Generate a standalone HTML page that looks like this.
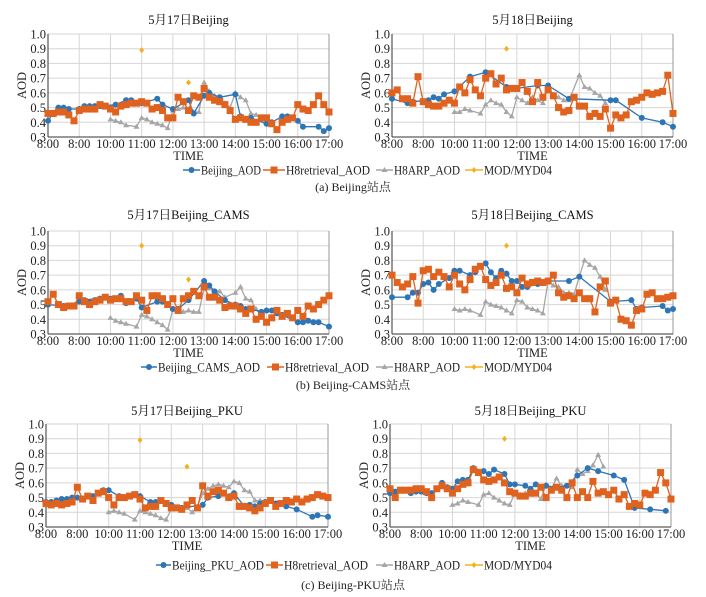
<!DOCTYPE html>
<html><head><meta charset="utf-8"><style>
html,body{margin:0;padding:0;background:#fff;}
svg{display:block;font-family:"Liberation Serif","Noto Serif CJK SC",serif;}
</style></head><body>
<svg id="fig" width="706" height="597" viewBox="0 0 706 597" xmlns="http://www.w3.org/2000/svg"></svg>
<script>
// ---- DATA ----
const xTickLabels = ["8:00","8:00","10:00","11:00","12:00","13:00","14:00","15:00","16:00","17:00"];
const yTickLabels = ["0.3","0.4","0.5","0.6","0.7","0.8","0.9","1.0"];
const yTickValues = [0.3,0.4,0.5,0.6,0.7,0.8,0.9,1.0];
const panelTitles = ["5月17日Beijing","5月18日Beijing","5月17日Beijing_CAMS","5月18日Beijing_CAMS","5月17日Beijing_PKU","5月18日Beijing_PKU"];
const groundNames = ["Beijing_AOD","Beijing_CAMS_AOD","Beijing_PKU_AOD"];
const captions = ["(a) Beijing站点","(b) Beijing-CAMS站点","(c) Beijing-PKU站点"];
// H8retrieval: every 10 min from 8:00 to 17:00
const h8ret = [
[.46,.46,.47,.47,.45,.41,.48,.49,.49,.49,.52,.51,.49,.47,.51,.52,.53,.53,.54,.53,.49,.50,.48,.43,.43,.57,.54,.48,.58,.57,.63,.57,.55,.54,.52,.48,.42,.43,.42,.40,.40,.43,.43,.39,.35,.40,.42,.43,.52,.49,.48,.52,.58,.52,.47],
[.60,.62,.56,.56,.53,.71,.54,.52,.51,.51,.53,.55,.53,.64,.60,.69,.62,.58,.70,.73,.66,.70,.62,.63,.63,.67,.61,.54,.67,.57,.62,.58,.50,.47,.48,.57,.51,.51,.44,.46,.44,.49,.36,.45,.43,.45,.54,.55,.57,.60,.59,.60,.61,.72,.46],
[.52,.57,.50,.48,.49,.49,.56,.52,.50,.52,.53,.55,.53,.54,.54,.52,.52,.56,.53,.46,.56,.56,.54,.50,.54,.46,.54,.56,.59,.56,.62,.55,.55,.53,.48,.49,.49,.47,.44,.47,.40,.42,.38,.41,.46,.42,.44,.41,.46,.42,.49,.47,.50,.53,.56],
[.70,.65,.62,.64,.69,.51,.73,.74,.69,.72,.69,.62,.70,.64,.60,.67,.74,.76,.67,.63,.65,.70,.61,.62,.58,.68,.64,.65,.66,.65,.66,.70,.58,.55,.56,.54,.58,.54,.54,.45,.62,.66,.51,.53,.40,.39,.36,.46,.47,.57,.58,.54,.54,.55,.56],
[.46,.45,.46,.45,.46,.47,.57,.49,.51,.48,.53,.54,.50,.45,.50,.50,.51,.52,.49,.43,.44,.44,.48,.46,.43,.43,.42,.45,.48,.43,.58,.51,.54,.55,.53,.50,.51,.44,.44,.43,.41,.43,.46,.48,.44,.46,.48,.47,.49,.47,.49,.50,.52,.51,.50],
[.56,.50,.55,.55,.55,.56,.56,.54,.50,.56,.58,.56,.53,.56,.59,.60,.69,.67,.62,.61,.62,.64,.60,.54,.53,.51,.51,.53,.53,.57,.50,.55,.57,.55,.50,.60,.50,.54,.50,.61,.53,.54,.52,.55,.49,.52,.44,.46,.45,.53,.52,.55,.67,.60,.49]
];
// H8ARP: every 10 min from 10:00 to 14:50 (null = missing)
const h8arp = [
[.42,.41,.40,.38,null,.37,.43,.42,.40,.39,.38,.36,.48,.49,.50,.49,.47,.47,.67,.61,.58,.55,.53,.50,.60,.57,.55,.46,.45,.42],
[.47,.47,.49,.48,null,.46,.52,.55,.53,.52,.47,.44,.57,.55,.53,.57,.55,.53,.64,.59,.57,.55,.55,null,.72,.64,.63,.60,.58,.53],
[.41,.39,.38,.37,null,.35,.43,.42,.40,.38,.36,.33,.47,.46,.45,.46,.45,.45,.61,.61,.59,.59,.55,null,.58,.62,.54,.53,.47,.42],
[.47,.46,.47,.46,null,.43,.52,.50,.49,.48,.46,.44,.53,.52,.48,.47,.46,.44,.66,.63,.62,.58,.58,.57,.69,.80,.77,.75,.69,.60],
[.40,.41,.40,.39,null,.35,.41,.40,.39,.38,.36,.35,.42,.43,.42,.43,.40,.44,.53,.56,.58,.59,.58,.57,.61,.60,.55,.54,.48,.48],
[.45,.46,.48,.47,null,.45,.52,.53,.50,.48,.46,.45,.53,.52,.53,.52,.53,.49,.59,.56,.63,.58,.58,.57,.69,.66,.68,.72,.79,.71]
];
// Ground station AOD: times and values
const groundTimes = [
["8:00","8:10","8:20","8:30","8:40","9:00","9:10","9:20","9:30","9:40","10:10","10:30","10:40","11:00","11:30","11:40","12:00","12:30","12:40","13:00","13:10","13:30","14:00","14:10","14:30","15:00","15:10","15:30","15:40","16:00","16:10","16:40","16:50","17:00"],
["8:00","8:30","8:40","9:10","9:20","9:30","9:40","10:00","10:30","11:00","11:40","12:00","12:40","13:00","13:40","15:00","15:10","16:00","16:40","17:00"],
["8:00","8:30","9:00","9:10","9:20","9:30","9:40","10:00","10:20","10:30","10:40","10:50","11:00","11:30","11:40","12:00","12:10","12:30","13:00","13:10","13:20","13:40","14:00","14:10","14:20","14:30","14:50","15:00","15:10","15:20","15:30","16:00","16:10","16:20","16:30","16:40","17:00"],
["8:00","8:30","8:40","8:50","9:00","9:10","9:20","9:30","9:50","10:00","10:10","10:30","10:40","10:50","11:00","11:10","11:20","11:30","11:40","11:50","12:00","12:10","12:20","12:40","13:00","13:40","14:00","15:00","15:40","15:50","16:00","16:40","16:50","17:00"],
["8:00","8:10","8:20","8:30","8:40","8:50","9:00","9:30","9:50","10:00","10:20","10:30","11:00","11:20","11:30","11:40","11:50","12:00","12:10","12:20","13:00","13:10","13:30","14:00","14:20","14:30","14:40","14:50","15:00","15:20","15:40","16:00","16:30","16:40","17:00"],
["8:00","8:10","8:20","8:30","8:40","8:50","9:00","9:10","9:20","9:40","9:50","10:00","10:10","10:20","10:30","10:40","11:00","11:10","11:20","11:40","11:50","12:00","12:20","12:30","12:40","13:00","13:20","13:40","14:00","14:20","14:40","15:10","15:30","15:50","16:20","16:50"]
];
const groundValues = [
[.41,.46,.50,.50,.49,.49,.51,.51,.51,.51,.52,.55,.55,.53,.56,.52,.49,.55,.46,.58,.60,.57,.59,.44,.43,.39,.40,.44,.44,.41,.37,.37,.34,.36],
[.56,.53,.54,.55,.57,.56,.59,.61,.71,.74,.64,.63,.65,.65,.56,.55,.55,.43,.40,.37],
[.50,.49,.52,.53,.52,.53,.54,.54,.56,.51,.52,.54,.48,.52,.52,.47,.47,.53,.66,.63,.59,.53,.50,.49,.47,.47,.45,.46,.46,.44,.43,.38,.38,.39,.38,.38,.35],
[.55,.55,.58,.58,.64,.65,.60,.64,.68,.73,.73,.70,.72,.76,.78,.72,.68,.73,.71,.66,.66,.62,.62,.64,.66,.66,.69,.52,.53,.47,.48,.49,.46,.47],
[.47,.47,.48,.49,.49,.50,.50,.51,.55,.55,.51,.50,.51,.47,.47,.48,.46,.45,.43,.43,.45,.50,.51,.53,.44,.45,.44,.46,.47,.46,.44,.42,.37,.38,.37],
[.53,.54,.55,.55,.53,.54,.54,.53,.53,.60,.57,.56,.61,.62,.62,.70,.68,.66,.69,.66,.59,.59,.58,.56,.59,.58,.57,.58,.65,.70,.68,.65,.62,.43,.42,.41]
];
const modTimes = [["11:00","12:30"],["11:40"],["11:00","12:30"],["11:40"],["11:00","12:30"],["11:40"]];
const modValues = [[.89,.67],[.90],[.90,.67],[.90],[.89,.71],[.90]];

// ---- LAYOUT ----
const panels = [
 {x0:48,x1:329,yt:34,yb:137,ty:20},{x0:392,x1:673,yt:34,yb:137,ty:20},
 {x0:48,x1:329,yt:231,yb:334,ty:215},{x0:392,x1:673,yt:231,yb:334,ty:215},
 {x0:46,x1:328,yt:424,yb:527,ty:411},{x0:390,x1:671,yt:424,yb:527,ty:411}
];
const legendRows = [
 {y:170,cy:187,bl:183,bt:201,ol:263,ot:286,bw:60},
 {y:367,cy:385,bl:141,bt:158,ol:267,ot:285,bw:102},
 {y:565,cy:585,bl:156,bt:172,ol:266,ot:284,bw:92}
];
const BLUE="#2e75b6",ORANGE="#e0621f",GRAY="#a6a6a6",GOLD="#f4b021";
const NS="http://www.w3.org/2000/svg";
const svg=document.getElementById('fig');
function mk(tag,attrs,parent){const e=document.createElementNS(NS,tag);for(const k in attrs)e.setAttribute(k,attrs[k]);(parent||svg).appendChild(e);return e;}
function tmin(s){const p=s.split(':');return (+p[0])+(+p[1])/60;}

function marker(g,type,x,y,color){
  let e;
  if(type==='circle'){e=mk('circle',{cx:x,cy:y,r:3,fill:color},g);}
  else if(type==='square'){e=mk('rect',{x:x-3.5,y:y-3.5,width:7,height:7,fill:color},g);}
  else if(type==='tri'){e=mk('polygon',{points:`${x},${y-3} ${x-3},${y+2} ${x+3},${y+2}`,fill:color},g);}
  else {e=mk('polygon',{points:`${x},${y-3} ${x+2.5},${y} ${x},${y+3} ${x-2.5},${y}`,fill:color},g);}
  return e;
}
function series(g,pts,color,type,name,width){
  const s=mk('g',{},g);
  
  
  if(pts.length>1){
    const l=mk('polyline',{points:pts.map(p=>p[0].toFixed(1)+','+p[1].toFixed(1)).join(' '),fill:'none',stroke:color,'stroke-width':width||1.3},s);
    
    
  }
  pts.forEach(p=>{const m=marker(s,type,p[0],p[1],color);
    
    });
}

panels.forEach((P,i)=>{
  const g=mk('g',{});
  
  
  const xs=h=>P.x0+(h-8)/9*(P.x1-P.x0);
  const ys=v=>P.yb-(v-0.3)/0.7*(P.yb-P.yt);
  const t=mk('text',{x:(P.x0+P.x1)/2,y:P.ty+4,'text-anchor':'middle','font-size':12.5,fill:'#111'},g);
  t.textContent=panelTitles[i];
  
  
  for(let h=9;h<17;h++) mk('line',{x1:xs(h),x2:xs(h),y1:P.yt,y2:P.yb,stroke:'#d6d6d6','stroke-width':1},g);
  yTickValues.forEach(v=>{ if(v>0.3) mk('line',{x1:P.x0,x2:P.x1,y1:ys(v),y2:ys(v),stroke:'#d6d6d6','stroke-width':1},g);});
  mk('line',{x1:P.x1,x2:P.x1,y1:P.yt,y2:P.yb,stroke:'#999'},g);
  mk('line',{x1:P.x0,x2:P.x0,y1:P.yt,y2:P.yb,stroke:'#333'},g);
  mk('line',{x1:P.x0,x2:P.x1,y1:P.yb,y2:P.yb,stroke:'#333'},g);
  yTickValues.forEach((v,k)=>{const e=mk('text',{x:P.x0-2,y:ys(v)+4.5,'text-anchor':'end','font-size':12.5,fill:'#222'},g);e.textContent=yTickLabels[k];
    
    });
  xTickLabels.forEach((s,k)=>{const e=mk('text',{x:xs(8+k),y:P.yb+11,'text-anchor':'middle','font-size':12.5,fill:'#222'},g);e.textContent=s;
    
    });
  const xt=mk('text',{x:(P.x0+P.x1)/2,y:P.yb+23,'text-anchor':'middle','font-size':12.5,fill:'#222'},g);xt.textContent='TIME';
  
  
  const yc=(P.yt+P.yb)/2, yx=P.x0-22;
  const yt=mk('text',{x:yx,y:yc,'text-anchor':'middle','font-size':12.5,fill:'#222',transform:`rotate(-90 ${yx} ${yc})`},g);yt.textContent='AOD';
  
  
  const arp=[];h8arp[i].forEach((v,k)=>{if(v!==null)arp.push([xs(10+k/6),ys(v)]);});
  series(g,arp,GRAY,'tri','h8arp-series',1.3);
  series(g,groundTimes[i].map((s,k)=>[xs(tmin(s)),ys(groundValues[i][k])]),BLUE,'circle','ground-series',1.3);
  series(g,h8ret[i].map((v,k)=>[xs(8+k/6),ys(v)]),ORANGE,'square','h8retrieval-series',1.3);
  const mg=mk('g',{},g);
  
  
  modTimes[i].forEach((s,k)=>{const m=marker(mg,'diamond',xs(tmin(s)),ys(modValues[i][k]),GOLD);
    
    });
});

legendRows.forEach((L,r)=>{
  const g=mk('g',{});
  
  
  const items=[[L.bl,L.bt,BLUE,'circle',groundNames[r],L.bw],[L.ol,L.ot,ORANGE,'square','H8retrieval_AOD',84],[376,394,GRAY,'tri','H8ARP_AOD',66],[465,484,GOLD,'diamond','MOD/MYD04',68]];
  items.forEach(it=>{
    const e=mk('g',{},g);
    
    
    mk('line',{x1:it[0],x2:it[1]-1,y1:L.y,y2:L.y,stroke:it[2],'stroke-width':1.5},e);
    marker(e,it[3],(it[0]+it[1]-1)/2,L.y,it[2]);
    const tx=mk('text',{x:it[1],y:L.y+4.5,'font-size':12.5,fill:'#222',textLength:it[5],lengthAdjust:'spacingAndGlyphs'},e);tx.textContent=it[4];
  });
  const c=mk('text',{x:353,y:L.cy+4,'text-anchor':'middle','font-size':12,fill:'#222'},g);c.textContent=captions[r];
  
  
});
</script>
</body></html>
